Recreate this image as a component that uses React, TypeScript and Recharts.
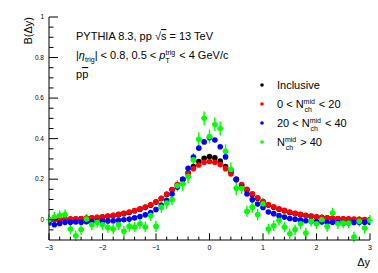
import React from "react";
import { ScatterChart, Scatter, XAxis, YAxis, ErrorBar } from "recharts";

// Δy bin centres
const deltaY = [
  -3.0, -2.9, -2.8, -2.7, -2.6, -2.5, -2.4, -2.3, -2.2, -2.1,
  -2.0, -1.9, -1.8, -1.7, -1.6, -1.5, -1.4, -1.3, -1.2, -1.1,
  -1.0, -0.9, -0.8, -0.7, -0.6, -0.5, -0.4, -0.3, -0.2, -0.1,
  0.0,
  0.1, 0.2, 0.3, 0.4, 0.5, 0.6, 0.7, 0.8, 0.9, 1.0,
  1.1, 1.2, 1.3, 1.4, 1.5, 1.6, 1.7, 1.8, 1.9, 2.0,
  2.1, 2.2, 2.3, 2.4, 2.5, 2.6, 2.7, 2.8, 2.9, 3.0,
];

const inclusive = [
  -0.001, 0.0, 0.0, 0.001, 0.002, 0.003, 0.004, 0.006, 0.008, 0.011,
  0.013, 0.017, 0.021, 0.025, 0.03, 0.036, 0.044, 0.052, 0.061, 0.072,
  0.087, 0.105, 0.125, 0.148, 0.172, 0.198, 0.232, 0.262, 0.287, 0.303,
  0.312,
  0.305, 0.289, 0.262, 0.233, 0.199, 0.171, 0.147, 0.125, 0.106, 0.088,
  0.073, 0.061, 0.052, 0.044, 0.036, 0.03, 0.025, 0.021, 0.017, 0.013,
  0.011, 0.008, 0.006, 0.004, 0.003, 0.002, 0.001, 0.0, 0.0, -0.001,
];

const lowMult = [
  0.001, 0.001, 0.002, 0.003, 0.004, 0.005, 0.006, 0.008, 0.01, 0.012,
  0.015, 0.018, 0.022, 0.027, 0.032, 0.038, 0.045, 0.054, 0.063, 0.074,
  0.088, 0.106, 0.126, 0.149, 0.173, 0.199, 0.226, 0.252, 0.27, 0.283,
  0.287,
  0.283, 0.272, 0.252, 0.226, 0.199, 0.173, 0.15, 0.128, 0.108, 0.09,
  0.075, 0.064, 0.054, 0.046, 0.038, 0.032, 0.027, 0.022, 0.018, 0.015,
  0.012, 0.01, 0.008, 0.006, 0.005, 0.004, 0.003, 0.002, 0.001, 0.001,
];

const midMult = [
  -0.016, -0.025, -0.018, -0.013, -0.013, -0.011, -0.012, -0.01, -0.009, -0.008,
  -0.007, -0.006, -0.005, -0.003, 0.0, 0.003, 0.009, 0.016, 0.024, 0.036,
  0.05, 0.071, 0.094, 0.127, 0.161, 0.2, 0.254, 0.309, 0.353, 0.384,
  0.405,
  0.393, 0.36, 0.31, 0.245, 0.199, 0.16, 0.127, 0.099, 0.077, 0.06,
  0.038, 0.03, 0.02, 0.013, 0.006, 0.002, -0.002, -0.005, -0.008, -0.01,
  -0.011, -0.013, -0.013, -0.014, -0.016, -0.015, -0.014, -0.013, -0.013, -0.012,
];

const highMult = [
  0.0, 0.013, 0.021, 0.025, -0.046, -0.079, -0.049, 0.003, -0.025, -0.013,
  -0.025, -0.038, -0.046, -0.025, -0.057, -0.033, -0.036, -0.02, -0.036, 0.02,
  -0.033, 0.062, 0.082, 0.099, 0.167, 0.176, 0.213, 0.295, 0.397, 0.5,
  0.41,
  0.47, 0.45, 0.338, 0.248, 0.155, 0.155, 0.041, 0.062, 0.025, 0.079,
  -0.046, -0.03, -0.003, -0.036, -0.069, -0.049, -0.02, -0.066, -0.008, -0.02,
  0.0, -0.033, 0.033, -0.02, -0.016, -0.016, -0.085, -0.008, -0.041, -0.003,
];

const highErr = [
  0.026, 0.026, 0.026, 0.026, 0.026, 0.026, 0.026, 0.026, 0.026, 0.026,
  0.026, 0.026, 0.026, 0.026, 0.026, 0.026, 0.026, 0.026, 0.026, 0.026,
  0.028, 0.028, 0.028, 0.028, 0.028, 0.034, 0.034, 0.034, 0.034, 0.034,
  0.034,
  0.034, 0.034, 0.034, 0.034, 0.034, 0.028, 0.028, 0.028, 0.028, 0.028,
  0.026, 0.026, 0.026, 0.026, 0.026, 0.026, 0.026, 0.026, 0.026, 0.026,
  0.026, 0.026, 0.026, 0.026, 0.026, 0.026, 0.026, 0.026, 0.026, 0.026,
];

const xMajor = [-3, -2, -1, 0, 1, 2, 3];
const xLabels = ["\u22123", "\u22122", "\u22121", "0", "1", "2", "3"];
const yMajor = [0, 0.2, 0.4, 0.6, 0.8, 1];
const yLabels = ["0", "0.2", "0.4", "0.6", "0.8", "1"];

const xTicks = Array.from({ length: 31 }, (_, i) => Math.round((-3 + i * 0.2) * 10) / 10);
const yTicks = Array.from({ length: 22 }, (_, i) => Math.round((-0.05 + i * 0.05) * 100) / 100);

const series = [
  { name: "Inclusive", color: "#000000", values: inclusive },
  { name: "low", color: "#ff0000", values: lowMult },
  { name: "mid", color: "#0000ff", values: midMult },
  { name: "high", color: "#00ff00", values: highMult },
];

const toPoints = (vals: number[], errs?: number[]) =>
  deltaY.map((x, i) => ({ x, y: vals[i], err: errs ? errs[i] : 0, xerr: 0.05 }));

const FONT = "'Liberation Sans', Arial, Helvetica, sans-serif";

const isMajor = (v: number, majors: number[]) => majors.findIndex((m) => Math.abs(m - v) < 1e-6);

const BottomTick = (props: any) => {
  const { x, y, payload } = props;
  const idx = isMajor(payload.value, xMajor);
  return (
    <g>
      <line x1={x} x2={x} y1={y} y2={y - (idx >= 0 ? 6.7 : 3.4)} stroke="#000" strokeWidth={1} />
      {idx >= 0 && (
        <text x={x} y={y + 10} textAnchor="middle" fontSize={7} fontFamily={FONT} fill="#000">
          {xLabels[idx]}
        </text>
      )}
    </g>
  );
};

const TopTick = (props: any) => {
  const { x, y, payload } = props;
  const idx = isMajor(payload.value, xMajor);
  return <line x1={x} x2={x} y1={y} y2={y + (idx >= 0 ? 6.7 : 3.4)} stroke="#000" strokeWidth={1} />;
};

const LeftTick = (props: any) => {
  const { x, y, payload } = props;
  const idx = isMajor(payload.value, yMajor);
  return (
    <g>
      <line x1={x} x2={x + (idx >= 0 ? 9 : 4.5)} y1={y} y2={y} stroke="#000" strokeWidth={1} />
      {idx >= 0 && (
        <text x={x - 5} y={y} dy="0.35em" textAnchor="end" fontSize={6.5} fontFamily={FONT} fill="#000">
          {yLabels[idx]}
        </text>
      )}
    </g>
  );
};

const RightTick = (props: any) => {
  const { x, y, payload } = props;
  const idx = isMajor(payload.value, yMajor);
  return <line x1={x} x2={x - (idx >= 0 ? 9 : 4.5)} y1={y} y2={y} stroke="#000" strokeWidth={1} />;
};

const dot = (color: string) => (props: any) =>
  <circle cx={props.cx} cy={props.cy} r={2.8} fill={color} />;

// glyph followed by stacked super/subscript, then the rest of the text
const Scripted = ({ sup, sub, supW, subW, after }: { sup: string; sub: string; supW: number; subW: number; after: string }) => (
  <>
    <tspan fontSize={7} dy={-4.5}>{sup}</tspan>
    <tspan fontSize={7} dx={-supW} dy={8}>{sub}</tspan>
    <tspan dx={Math.max(0, supW - subW) + 1} dy={-3.5}>{after}</tspan>
  </>
);

export default function App() {
  return (
    <div style={{ position: "absolute", left: 0, top: 0, width: 378, height: 273, background: "#fff" }}>
      <ScatterChart width={378} height={273} margin={{ top: 17, right: 8, bottom: 0, left: 0 }}>
        <XAxis
          xAxisId="b"
          dataKey="x"
          type="number"
          domain={[-3, 3]}
          ticks={xTicks}
          interval={0}
          height={33}
          tickSize={0}
          tickMargin={0}
          tickLine={false}
          tick={<BottomTick />}
          axisLine={{ stroke: "#000" }}
          allowDataOverflow
        />
        <XAxis
          xAxisId="t"
          orientation="top"
          dataKey="x"
          type="number"
          domain={[-3, 3]}
          ticks={xTicks}
          interval={0}
          height={0}
          tickSize={0}
          tickMargin={0}
          tickLine={false}
          tick={<TopTick />}
          axisLine={{ stroke: "#000" }}
          allowDataOverflow
        />
        <YAxis
          yAxisId="l"
          dataKey="y"
          type="number"
          domain={[-0.1, 1]}
          ticks={yTicks}
          interval={0}
          width={49}
          tickSize={0}
          tickMargin={0}
          tickLine={false}
          tick={<LeftTick />}
          axisLine={{ stroke: "#000" }}
          allowDataOverflow
        />
        <YAxis
          yAxisId="r"
          orientation="right"
          dataKey="y"
          type="number"
          domain={[-0.1, 1]}
          ticks={yTicks}
          interval={0}
          width={0}
          tickSize={0}
          tickMargin={0}
          tickLine={false}
          tick={<RightTick />}
          axisLine={{ stroke: "#000" }}
          allowDataOverflow
        />
        {series.slice(0, 3).map((s) => (
          <Scatter
            key={s.name}
            name={s.name}
            xAxisId="b"
            yAxisId="l"
            data={toPoints(s.values)}
            fill={s.color}
            shape={dot(s.color)}
            isAnimationActive={false}
          />
        ))}
        <Scatter
          name="high"
          xAxisId="b"
          yAxisId="l"
          data={toPoints(highMult, highErr)}
          fill="#00ff00"
          shape={dot("#00ff00")}
          isAnimationActive={false}
        >
          <ErrorBar dataKey="err" direction="y" width={0} stroke="#00ff00" strokeWidth={1.4} />
          <ErrorBar dataKey="xerr" direction="x" width={0} stroke="#00ff00" strokeWidth={1.4} />
        </Scatter>
      </ScatterChart>

      <svg
        width={378}
        height={273}
        style={{ position: "absolute", left: 0, top: 0, pointerEvents: "none" }}
        fontFamily={FONT}
      >
        <text transform="translate(32,17) rotate(-90)" textAnchor="end" fontSize={11} fill="#000">
          B(Δy)
        </text>
        <text x={370} y={266} textAnchor="end" fontSize={11} fill="#000">
          Δy
        </text>

        <text x={76} y={40} fontSize={11} fill="#000">
          <tspan>PYTHIA 8.3, pp </tspan>
          <tspan>√</tspan>
          <tspan style={{ textDecoration: "overline" }}>s</tspan>
          <tspan> = 13 TeV</tspan>
        </text>
        <text x={76} y={59} fontSize={11} fill="#000">
          <tspan>|</tspan>
          <tspan fontStyle="italic">η</tspan>
          <tspan fontSize={7} dy={3}>trig</tspan>
          <tspan dy={-3}>| &lt; 0.8, 0.5 &lt; </tspan>
          <tspan fontStyle="italic">p</tspan>
          <Scripted sup="trig" sub="T" supW={9.7} subW={4.3} after=" < 4 GeV/c" />
        </text>
        <text x={76} y={78} fontSize={11} fill="#000">
          <tspan>p</tspan>
          <tspan style={{ textDecoration: "overline" }}>p</tspan>
        </text>

        {series.map((s, i) => {
          const cy = 85 + i * 19;
          return (
            <g key={s.name}>
              <circle cx={262} cy={cy} r={1.8} fill={s.color} />
              <text x={277} y={cy + 4} fontSize={11} fill="#000">
                {i === 0 && "Inclusive"}
                {i === 1 && (
                  <>
                    <tspan>0 &lt; N</tspan>
                    <Scripted sup="mid" sub="ch" supW={10.5} subW={7.5} after=" < 20" />
                  </>
                )}
                {i === 2 && (
                  <>
                    <tspan>20 &lt; N</tspan>
                    <Scripted sup="mid" sub="ch" supW={10.5} subW={7.5} after=" < 40" />
                  </>
                )}
                {i === 3 && (
                  <>
                    <tspan>N</tspan>
                    <Scripted sup="mid" sub="ch" supW={10.5} subW={7.5} after=" > 40" />
                  </>
                )}
              </text>
            </g>
          );
        })}
      </svg>
    </div>
  );
}
